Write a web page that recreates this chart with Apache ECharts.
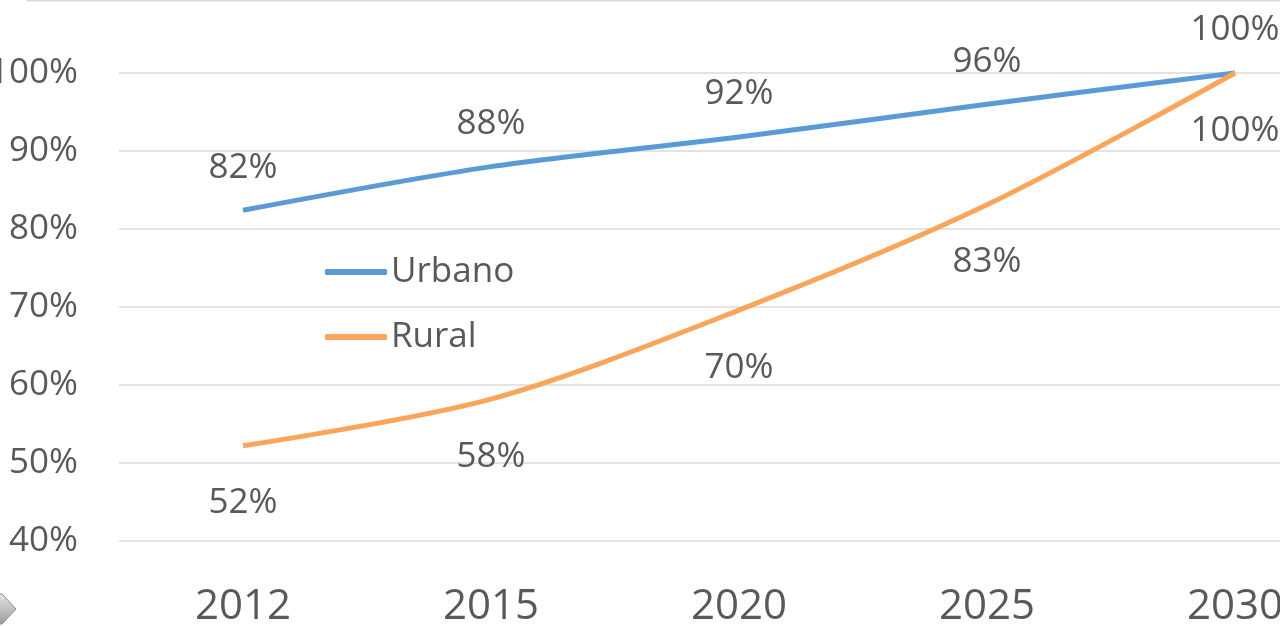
<!DOCTYPE html>
<html><head><meta charset="utf-8">
<script src="https://cdn.jsdelivr.net/npm/echarts@6/dist/echarts.min.js"></script>
<style>html,body{margin:0;padding:0;background:#fff}#c{width:1280px;height:626px}</style>
</head><body><div id="c"></div>
<script>
const categories = ['2012', '2015', '2020', '2025', '2030'];
const urbano = [82.4, 88.0, 91.8, 96.0, 100];
const rural = [52.2, 58.2, 69.6, 83.1, 100];
const seriesNames = ['Urbano', 'Rural'];
const yMin = 40, yMax = 110, yStep = 10;

const FONT = '"Open Sans", sans-serif';
const TXT = '#595959';
const chart = echarts.init(document.getElementById('c'));
chart.setOption({
  animation: false,
  backgroundColor: '#fff',
  grid: {left: 119, right: -79, top: -5, bottom: 85, containLabel: false, outerBoundsMode: 'none'},
  legend: {
    orient: 'vertical', left: 325, top: 252, padding: 0,
    itemWidth: 62, itemHeight: 6, itemGap: 25,
    icon: 'roundRect',
    textStyle: {fontFamily: FONT, fontSize: 35, color: TXT, lineHeight: 40, padding: [0,0,0,-1]},
    data: seriesNames
  },
  xAxis: {
    type: 'category', data: categories, boundaryGap: true,
    axisLine: {show: false}, axisTick: {show: false},
    axisLabel: {fontFamily: FONT, fontSize: 42, color: TXT, margin: 45}
  },
  yAxis: {
    type: 'value', min: yMin, max: yMax, interval: yStep,
    axisLine: {show: false}, axisTick: {show: false},
    splitLine: {lineStyle: {color: '#e3e3e3', width: 2}},
    axisLabel: {fontFamily: FONT, fontSize: 35, color: TXT, margin: 41, formatter: v => v > 100 ? '' : v + '%'}
  },
  series: [
    {name: seriesNames[0], type: 'line', data: urbano, smooth: 0.3, symbol: 'circle', symbolSize: 0.1, showSymbol: true,
     lineStyle: {color: '#5b9bd5', width: 5}, itemStyle: {color: '#5b9bd5'},
     label: {show: true, position: 'top', distance: 25, fontFamily: FONT, fontSize: 35, color: TXT,
       formatter: p => Math.round(p.value) + '%'}},
    {name: seriesNames[1], type: 'line', data: rural, smooth: 0.3, symbol: 'circle', symbolSize: 0.1, showSymbol: true,
     lineStyle: {color: '#fba55b', width: 5}, itemStyle: {color: '#fba55b'},
     label: {show: true, position: 'bottom', distance: 40, fontFamily: FONT, fontSize: 35, color: TXT,
       formatter: p => Math.round(p.value) + '%'}}
  ],
  graphic: [
    {type: 'line', shape: {x1: 27, y1: 0.5, x2: 1280, y2: 0.5}, style: {stroke: '#d9d9d9', lineWidth: 2}, silent: true},
    {type: 'polygon', shape: {points: [[-6, 594], [2, 594], [16, 609], [2, 624], [-6, 624]]},
     style: {fill: {type: 'linear', x: 0, y: 0, x2: 0, y2: 1, colorStops: [{offset: 0, color: '#e6e6e6'}, {offset: 1, color: '#9a9a9a'}]},
       stroke: '#8c8c8c', lineWidth: 1}, silent: true}
  ]
});
</script></body></html>
